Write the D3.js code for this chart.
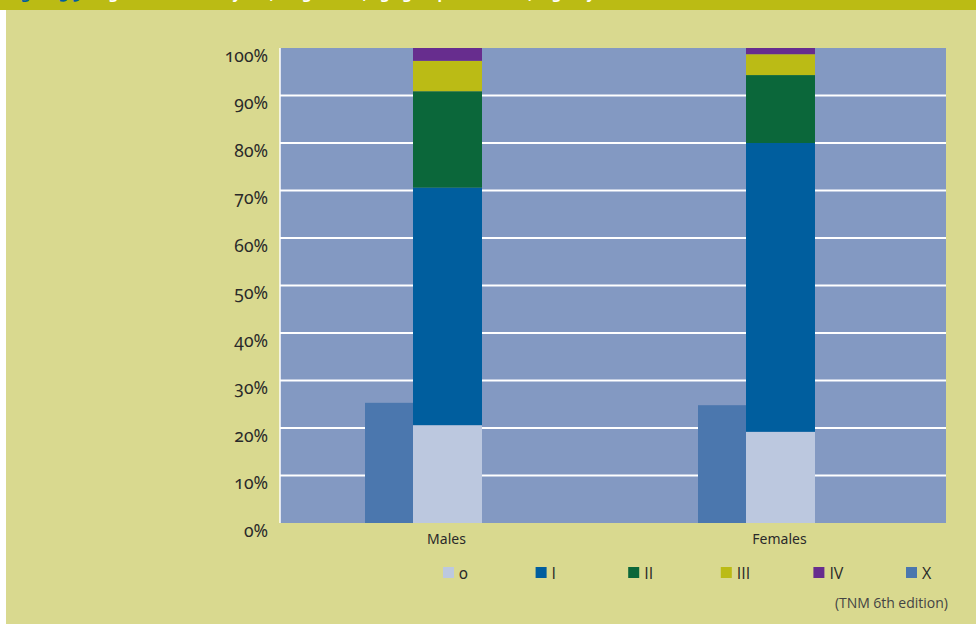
<!DOCTYPE html>
<html>
<head>
<meta charset="utf-8">
<script src="https://cdn.jsdelivr.net/npm/d3@7"></script>
<style>
html,body{margin:0;padding:0;background:#fff;}
svg{display:block;font-family:"Noto Sans",sans-serif;font-variant-numeric:oldstyle-nums;font-feature-settings:"onum" 1;}
</style>
</head>
<body>
<svg id="chart" width="976" height="624"></svg>
<script>
const categories = ["Males", "Females"];
const stages = ["0", "I", "II", "III", "IV"];
const stage0 = [20.6, 19.2];
const stageI = [50.0, 60.8];
const stageII = [20.3, 14.3];
const stageIII = [6.4, 4.4];
const stageIV = [2.7, 1.3];
const stageX = [25.3, 24.8];
const yTicks = [0, 10, 20, 30, 40, 50, 60, 70, 80, 90, 100];
const legendLabels = ["0", "I", "II", "III", "IV", "X"];
const colors = {"0":"#BCC8DF","I":"#005E9E","II":"#0B673A","III":"#BBBB15","IV":"#672D8E","X":"#4B77AE"};

const svg = d3.select("#chart");
// backgrounds
svg.append("rect").attr("x",6).attr("y",0).attr("width",970).attr("height",624).attr("fill","#D9D98F");
svg.append("rect").attr("x",0).attr("y",0).attr("width",976).attr("height",10).attr("fill","#BBBB14");
const title = svg.append("text").attr("x",8).attr("y",-1).attr("font-size",15).attr("font-weight","bold");
title.append("tspan").attr("fill","#005E9E").text("Figure 3.9 ");
title.append("tspan").attr("fill","#ffffff").text("Stage distribution by sex, lung cancer, age group 2008–2010, registry");

const margin = {left:280, right:946, top:48, bottom:523};
const x = d3.scaleBand().domain(categories).range([margin.left, margin.right]);
const y = d3.scaleLinear().domain([0,100]).range([margin.bottom, margin.top]);

svg.append("rect").attr("x",margin.left).attr("y",margin.top)
  .attr("width",margin.right-margin.left).attr("height",margin.bottom-margin.top).attr("fill","#8399C2");

// gridlines
svg.append("g").selectAll("line").data(yTicks.filter(d=>d>0 && d<100)).join("line")
  .attr("x1",margin.left).attr("x2",margin.right)
  .attr("y1",d=>y(d)).attr("y2",d=>y(d))
  .attr("stroke","#ffffff").attr("stroke-width",2);
svg.append("line").attr("x1",margin.left).attr("x2",margin.left).attr("y1",margin.top).attr("y2",margin.bottom)
  .attr("stroke","#ffffff").attr("stroke-width",1.5);

// y axis
const yAxis = d3.axisLeft(y).tickValues(yTicks).tickFormat(d=>d+"%").tickSize(0).tickPadding(12);
const gy = svg.append("g").attr("transform",`translate(${margin.left},0)`).call(yAxis);
gy.select(".domain").remove();
gy.selectAll("text").attr("font-size",17.5).attr("fill","#2a2a2a").attr("dy","0.75em")
  .attr("font-family","'Noto Sans',sans-serif");

// x axis
const xAxis = d3.axisBottom(x).tickSize(0).tickPadding(11);
const gx = svg.append("g").attr("transform",`translate(0,${margin.bottom})`).call(xAxis);
gx.select(".domain").remove();
gx.selectAll("text").attr("font-size",14).attr("fill","#2a2a2a").attr("font-family","'Noto Sans',sans-serif");

// stacked data
const rows = categories.map((c,i)=>({cat:c,"0":stage0[i],"I":stageI[i],"II":stageII[i],"III":stageIII[i],"IV":stageIV[i],X:stageX[i]}));
const stack = d3.stack().keys(stages)(rows);
const mainW = 69, xW = 48;
const center = c => x(c) + x.bandwidth()/2 + 1;

svg.append("g").selectAll("g").data(stack).join("g").attr("fill",d=>colors[d.key])
  .selectAll("rect").data(d=>d).join("rect")
  .attr("x",d=>center(d.data.cat)-mainW/2)
  .attr("width",mainW)
  .attr("y",d=>y(d[1]))
  .attr("height",d=>y(d[0])-y(d[1]));

svg.append("g").selectAll("rect").data(rows).join("rect")
  .attr("fill",colors.X)
  .attr("x",d=>center(d.cat)-mainW/2-xW)
  .attr("width",xW)
  .attr("y",d=>y(d.X))
  .attr("height",d=>y(0)-y(d.X));

// legend
const lg = svg.append("g");
const lx = d3.scalePoint().domain(legendLabels).range([443, 906]);
const items = lg.selectAll("g").data(legendLabels).join("g").attr("transform",d=>`translate(${lx(d)},567)`);
items.append("rect").attr("width",11).attr("height",11).attr("fill",d=>colors[d]);
items.append("text").attr("x",16).attr("y",11.5).attr("font-size",16).attr("fill","#2a2a2a")
  .attr("font-family",d=>d==="0" ? "'Noto Sans',sans-serif" : "'Open Sans',sans-serif")
  .text(d=>d);

svg.append("text").attr("x",948).attr("y",608).attr("text-anchor","end").attr("font-size",14)
  .attr("fill","#444").attr("font-family","'Open Sans',sans-serif").text("(TNM 6th edition)");
</script>
</body>
</html>
